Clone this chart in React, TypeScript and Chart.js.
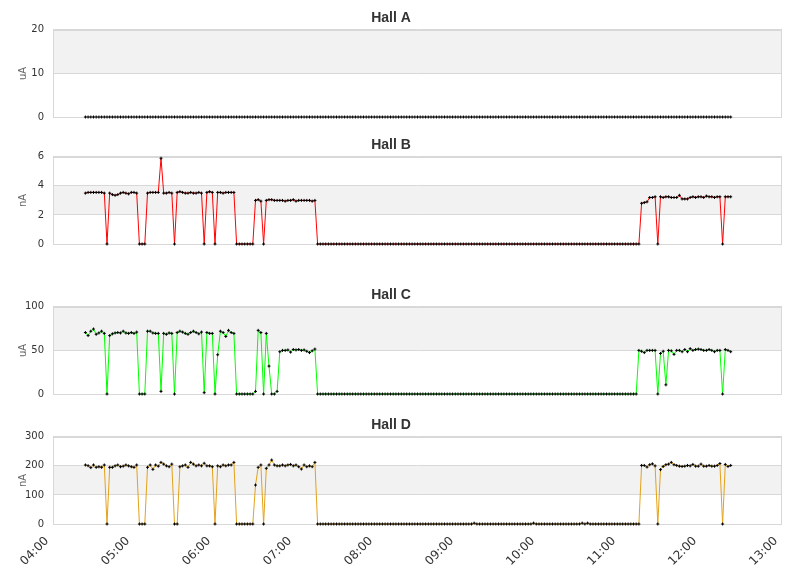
import React, { useEffect, useRef } from 'react';
import { Chart, registerables } from 'chart.js';

Chart.register(...registerables);

// samples every 2 minutes starting 04:24
const START_MINUTE = 4 * 60 + 24;
const STEP_MINUTES = 2;

const X_TICKS = ['04:00', '05:00', '06:00', '07:00', '08:00', '09:00', '10:00', '11:00', '12:00', '13:00'];

const HALL_A = [
  0, 0, 0, 0, 0, 0, 0, 0, 0, 0, 0, 0, 0, 0, 0, 0, 0, 0, 0, 0,
  0, 0, 0, 0, 0, 0, 0, 0, 0, 0, 0, 0, 0, 0, 0, 0, 0, 0, 0, 0,
  0, 0, 0, 0, 0, 0, 0, 0, 0, 0, 0, 0, 0, 0, 0, 0, 0, 0, 0, 0,
  0, 0, 0, 0, 0, 0, 0, 0, 0, 0, 0, 0, 0, 0, 0, 0, 0, 0, 0, 0,
  0, 0, 0, 0, 0, 0, 0, 0, 0, 0, 0, 0, 0, 0, 0, 0, 0, 0, 0, 0,
  0, 0, 0, 0, 0, 0, 0, 0, 0, 0, 0, 0, 0, 0, 0, 0, 0, 0, 0, 0,
  0, 0, 0, 0, 0, 0, 0, 0, 0, 0, 0, 0, 0, 0, 0, 0, 0, 0, 0, 0,
  0, 0, 0, 0, 0, 0, 0, 0, 0, 0, 0, 0, 0, 0, 0, 0, 0, 0, 0, 0,
  0, 0, 0, 0, 0, 0, 0, 0, 0, 0, 0, 0, 0, 0, 0, 0, 0, 0, 0, 0,
  0, 0, 0, 0, 0, 0, 0, 0, 0, 0, 0, 0, 0, 0, 0, 0, 0, 0, 0, 0,
  0, 0, 0, 0, 0, 0, 0, 0, 0, 0, 0, 0, 0, 0, 0, 0, 0, 0, 0, 0,
  0, 0, 0, 0, 0, 0, 0, 0, 0, 0, 0, 0, 0, 0, 0, 0, 0, 0, 0, 0,
];

const HALL_B = [
  3.5, 3.55, 3.55, 3.55, 3.55, 3.55, 3.55, 3.5, 0, 3.5, 3.4, 3.35, 3.4, 3.5, 3.55, 3.5, 3.45, 3.55, 3.55, 3.5,
  0, 0, 0, 3.5, 3.55, 3.55, 3.55, 3.55, 5.9, 3.5, 3.5, 3.55, 3.5, 0, 3.55, 3.6, 3.55, 3.5, 3.5, 3.55,
  3.5, 3.5, 3.55, 3.5, 0, 3.55, 3.6, 3.55, 0, 3.55, 3.55, 3.5, 3.55, 3.55, 3.55, 3.55, 0, 0, 0, 0,
  0, 0, 0, 3.0, 3.05, 2.95, 0, 3.0, 3.05, 3.05, 3.0, 3.0, 3.0, 3.0, 2.95, 3.0, 3.0, 3.05, 2.95, 3.0,
  3.0, 3.0, 3.0, 3.0, 2.95, 3.0, 0, 0, 0, 0, 0, 0, 0, 0, 0, 0, 0, 0, 0, 0,
  0, 0, 0, 0, 0, 0, 0, 0, 0, 0, 0, 0, 0, 0, 0, 0, 0, 0, 0, 0,
  0, 0, 0, 0, 0, 0, 0, 0, 0, 0, 0, 0, 0, 0, 0, 0, 0, 0, 0, 0,
  0, 0, 0, 0, 0, 0, 0, 0, 0, 0, 0, 0, 0, 0, 0, 0, 0, 0, 0, 0,
  0, 0, 0, 0, 0, 0, 0, 0, 0, 0, 0, 0, 0, 0, 0, 0, 0, 0, 0, 0,
  0, 0, 0, 0, 0, 0, 0, 0, 0, 0, 0, 0, 0, 0, 0, 0, 0, 0, 0, 0,
  0, 0, 0, 0, 0, 0, 2.8, 2.85, 2.9, 3.2, 3.2, 3.25, 0, 3.25, 3.2, 3.25, 3.25, 3.2, 3.2, 3.2,
  3.35, 3.1, 3.1, 3.1, 3.2, 3.25, 3.2, 3.25, 3.25, 3.2, 3.3, 3.25, 3.25, 3.2, 3.25, 3.25, 0, 3.25, 3.25, 3.25,
];

const HALL_C = [
  70.5, 67, 72, 74.5, 68.5, 70, 72, 69.5, 0, 67, 69, 70, 70.5, 70, 72, 70, 69.5, 70.5, 69.5, 71,
  0, 0, 0, 72, 72, 70, 69.5, 69.5, 3, 69.5, 68.5, 70, 69.5, 0, 70.5, 72, 71, 69.5, 68.5, 70.5,
  72, 70.5, 69, 71, 1.5, 70.5, 69.5, 69.5, 0, 45, 72, 70.5, 66, 73, 70.5, 69.5, 0, 0, 0, 0,
  0, 0, 0, 3, 73, 70.5, 0, 69.5, 32, 0, 0, 3, 48.5, 50, 50, 50.5, 48, 51, 50.5, 51,
  50, 50.5, 49, 47.5, 49.5, 51.5, 0, 0, 0, 0, 0, 0, 0, 0, 0, 0, 0, 0, 0, 0,
  0, 0, 0, 0, 0, 0, 0, 0, 0, 0, 0, 0, 0, 0, 0, 0, 0, 0, 0, 0,
  0, 0, 0, 0, 0, 0, 0, 0, 0, 0, 0, 0, 0, 0, 0, 0, 0, 0, 0, 0,
  0, 0, 0, 0, 0, 0, 0, 0, 0, 0, 0, 0, 0, 0, 0, 0, 0, 0, 0, 0,
  0, 0, 0, 0, 0, 0, 0, 0, 0, 0, 0, 0, 0, 0, 0, 0, 0, 0, 0, 0,
  0, 0, 0, 0, 0, 0, 0, 0, 0, 0, 0, 0, 0, 0, 0, 0, 0, 0, 0, 0,
  0, 0, 0, 0, 0, 50, 49, 47.5, 50, 50, 50, 50, 0, 46.5, 49, 10.5, 50, 49.5, 45.5, 50,
  50, 48.5, 51, 48.5, 52, 50, 51, 51.5, 51, 50, 50, 51, 50, 48.5, 50, 50, 0, 51, 50, 48.5,
];

const HALL_D = [
  203, 200.5, 194, 203, 195, 197, 195, 203, 0, 195, 195, 200, 203, 197, 199, 203, 200, 197, 195, 203,
  0, 0, 0, 195, 203, 188, 203, 199, 212, 206, 200, 197, 206, 0, 0, 197, 200, 203, 195, 212,
  206, 200, 203, 200, 209, 200, 200, 197, 0, 200, 197, 203, 200, 203, 203, 212, 0, 0, 0, 0,
  0, 0, 0, 134, 195, 203, 0, 191.5, 203, 220, 203, 200, 200, 203, 200, 203, 205, 200, 203, 197,
  189, 203, 197, 200, 197, 212, 0, 0, 0, 0, 0, 0, 0, 0, 0, 0, 0, 0, 0, 0,
  0, 0, 0, 0, 0, 0, 0, 0, 0, 0, 0, 0, 0, 0, 0, 0, 0, 0, 0, 0,
  0, 0, 0, 0, 0, 0, 0, 0, 0, 0, 0, 0, 0, 0, 0, 0, 0, 0, 0, 0,
  0, 0, 0, 0, 3, 0, 0, 0, 0, 0, 0, 0, 0, 0, 0, 0, 0, 0, 0, 0,
  0, 0, 0, 0, 0, 0, 3, 0, 0, 0, 0, 0, 0, 0, 0, 0, 0, 0, 0, 0,
  0, 0, 0, 0, 3, 0, 3, 0, 0, 0, 0, 0, 0, 0, 0, 0, 0, 0, 0, 0,
  0, 0, 0, 0, 0, 0, 201.5, 201.5, 196, 204, 207, 200, 0, 187, 198, 204, 206, 212, 204, 201.5,
  199, 198, 199, 201.5, 200, 205, 199, 199, 206, 199, 199, 201.5, 199, 199, 201.5, 208, 0, 205, 198, 201.5,
];

const HALL_NAMES = ['Hall A', 'Hall B', 'Hall C', 'Hall D'];
const HALL_UNITS = ['uA', 'nA', 'uA', 'nA'];
const HALL_MAX = [20, 6, 100, 300];
const HALL_STEP = [10, 2, 50, 100];
const HALL_VALUES = [HALL_A, HALL_B, HALL_C, HALL_D];
const HALL_COLORS = ['#d8d8d8', '#ff0000', '#00ff00', '#e3a21a'];

// canvas placement of each panel
const PANEL_TOP = [0, 127, 277, 407];
const PANEL_HEIGHT = [130, 130, 130, 171];

const bandsPlugin = {
  id: 'bands',
  beforeDraw(chart: any) {
    const { ctx, chartArea: a, scales } = chart;
    const y = scales.y;
    ctx.save();
    ctx.fillStyle = '#f2f2f2';
    for (let i = 0; i < y.ticks.length - 1; i++) {
      if (i % 2 === 1) {
        const top = y.getPixelForValue(y.ticks[i + 1].value);
        const bottom = y.getPixelForValue(y.ticks[i].value);
        ctx.fillRect(a.left, top, a.right - a.left, bottom - top);
      }
    }
    ctx.restore();
  },
  beforeDatasetsDraw(chart: any) {
    const { ctx, chartArea: a } = chart;
    ctx.save();
    ctx.strokeStyle = '#d8d8d8';
    ctx.lineWidth = 1;
    ctx.strokeRect(Math.round(a.left) + 0.5, Math.round(a.top) + 0.5, Math.round(a.right - a.left) - 1, Math.round(a.bottom - a.top));
    ctx.restore();
  },
};

const HallPanel: React.FC<{ index: number }> = ({ index }) => {
  const canvasRef = useRef<HTMLCanvasElement>(null);
  const chartRef = useRef<Chart | null>(null);

  useEffect(() => {
    if (!canvasRef.current) return;
    const ctx = canvasRef.current.getContext('2d');
    if (!ctx) return;

    if (chartRef.current) {
      chartRef.current.destroy();
      chartRef.current = null;
    }

    const isLast = index === HALL_NAMES.length - 1;
    const values = HALL_VALUES[index];
    const points = values.map((v, i) => ({ x: START_MINUTE + i * STEP_MINUTES, y: v }));

    chartRef.current = new Chart(ctx, {
      type: 'line',
      data: {
        datasets: [{
          label: HALL_NAMES[index],
          data: points,
          borderColor: HALL_COLORS[index],
          borderWidth: 1,
          tension: 0,
          pointStyle: 'cross',
          pointRadius: 1.5,
          pointBorderWidth: 1,
          pointBorderColor: '#000',
          pointBackgroundColor: '#000',
          clip: false as any,
        }]
      },
      options: {
        animation: false,
        responsive: true,
        maintainAspectRatio: false,
        events: [],
        layout: { padding: { left: 0, right: 29, top: 0, bottom: isLast ? 0 : 13 } },
        plugins: {
          legend: { display: false },
          tooltip: { enabled: false },
          title: {
            display: true,
            text: HALL_NAMES[index],
            color: '#333',
            font: { family: 'Liberation Sans', size: 14, weight: 'bold' },
            padding: { top: 10, bottom: 3 },
          },
        },
        scales: {
          x: {
            type: 'linear',
            min: 240,
            max: 780,
            display: isLast,
            grid: { display: false, drawTicks: false },
            border: { display: false },
            ticks: {
              stepSize: 60,
              autoSkip: false,
              minRotation: 45,
              maxRotation: 45,
              padding: 10,
              labelOffset: -6,
              color: '#333',
              font: { family: 'DejaVu Sans', size: 12 },
              callback: (_v: any, i: number) => X_TICKS[i],
            },
            afterFit: (s: any) => { if (isLast) s.height = 54; },
          },
          y: {
            min: 0,
            max: HALL_MAX[index],
            grid: { color: '#d8d8d8', drawTicks: false },
            border: { display: false },
            ticks: {
              stepSize: HALL_STEP[index],
              padding: 9,
              color: '#333',
              font: { family: 'DejaVu Sans', size: 10 },
            },
            title: {
              display: true,
              text: HALL_UNITS[index],
              color: '#666',
              font: { family: 'DejaVu Sans', size: 10 },
              padding: { top: 17, bottom: 0 },
            },
            afterFit: (s: any) => {
              s.width = 53;
              s.paddingTop = 6;
              s.paddingBottom = 6;
            },
          },
        },
      },
      plugins: [bandsPlugin],
    });

    return () => {
      if (chartRef.current) {
        chartRef.current.destroy();
        chartRef.current = null;
      }
    };
  }, [index]);

  return (
    <div style={{ position: 'absolute', left: 0, top: PANEL_TOP[index], width: 811, height: PANEL_HEIGHT[index] }}>
      <canvas ref={canvasRef}></canvas>
    </div>
  );
};

const App: React.FC = () => {
  return (
    <div style={{ position: 'absolute', left: 0, top: 0, width: 811, height: 578, background: '#fff' }}>
      {HALL_NAMES.map((_n, i) => <HallPanel key={i} index={i} />)}
    </div>
  );
};

export default App;
